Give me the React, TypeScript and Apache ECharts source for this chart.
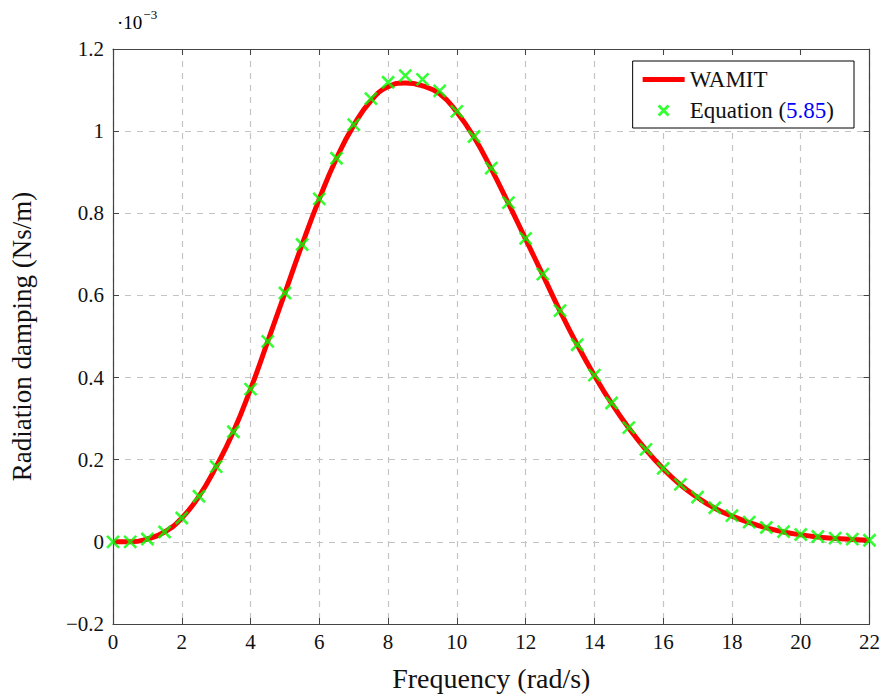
import React, { useEffect, useRef } from "react";
import * as echarts from "echarts";

const freq = [0, 0.5, 1, 1.5, 2, 2.5, 3, 3.5, 4, 4.5, 5, 5.5, 6, 6.5, 7, 7.5, 8, 8.5, 9, 9.5, 10, 10.5, 11, 11.5, 12, 12.5, 13, 13.5, 14, 14.5, 15, 15.5, 16, 16.5, 17, 17.5, 18, 18.5, 19, 19.5, 20, 20.5, 21, 21.5, 22];
const wamit = [0, 0, 0.007, 0.024, 0.058, 0.111, 0.183, 0.268, 0.372, 0.488, 0.606, 0.724, 0.835, 0.934, 1.014, 1.074, 1.108, 1.117, 1.11, 1.091, 1.046, 0.985, 0.908, 0.824, 0.737, 0.65, 0.562, 0.48, 0.405, 0.337, 0.277, 0.224, 0.178, 0.139, 0.108, 0.082, 0.063, 0.047, 0.034, 0.024, 0.017, 0.012, 0.008, 0.006, 0.004];
const equation = [0, 0, 0.007, 0.024, 0.058, 0.111, 0.183, 0.268, 0.372, 0.488, 0.606, 0.724, 0.835, 0.934, 1.016, 1.079, 1.119, 1.135, 1.126, 1.098, 1.048, 0.987, 0.91, 0.826, 0.739, 0.652, 0.563, 0.48, 0.406, 0.338, 0.278, 0.225, 0.179, 0.14, 0.109, 0.083, 0.064, 0.048, 0.035, 0.025, 0.018, 0.013, 0.009, 0.0065, 0.004];
const xTicks = { min: 0, max: 22, interval: 2 };
const yTicks = { min: -0.2, max: 1.2, interval: 0.2 };

const FONT = "Liberation Serif";
const GREEN = "#00ff00";
const CROSS = "path://M0,0 L10,10 M10,0 L0,10";
const CROSS_LEGEND = "path://M-2,-2 M12,12 M0,0 L10,10 M10,0 L0,10";
const LINE_LEGEND = "path://M0,0 H42 V5 H0 Z";

export default function App() {
  const ref = useRef<HTMLDivElement>(null);
  useEffect(() => {
    if (!ref.current) return;
    const chart = echarts.init(ref.current, undefined, { renderer: "svg" });
    const axisCommon = {
      axisLine: { show: true, onZero: false, lineStyle: { color: "#444", width: 1.2 } },
      axisTick: { show: true, inside: true, length: 6, lineStyle: { color: "#444", width: 1 } },
    };
    const fmtY = (v: number) => {
      const r = Math.round(v * 10) / 10;
      if (r === 0) return "0";
      return (r < 0 ? "\u2212" : "") + String(Math.abs(r));
    };
    chart.setOption({
      animation: false,
      backgroundColor: "#fff",
      textStyle: { fontFamily: FONT },
      grid: { left: 110, right: 13, top: 49, bottom: 69 },
      legend: {
        right: 29,
        top: 61,
        orient: "vertical",
        backgroundColor: "#fff",
        borderColor: "#000",
        borderWidth: 1,
        borderRadius: 0,
        padding: [7, 20, 6, 10],
        itemGap: 8,
        itemWidth: 42,
        itemHeight: 14,
        textStyle: {
          fontFamily: FONT,
          fontSize: 23,
          color: "#111",
          rich: {
            a: { fontFamily: FONT, fontSize: 23, color: "#111" },
            b: { fontFamily: FONT, fontSize: 23, color: "#0000ff" },
          },
        },
        formatter: (name: string) =>
          name === "Equation (5.85)" ? "{a|Equation (}{b|5.85}{a|)}" : name,
        data: [
          { name: "WAMIT", icon: LINE_LEGEND, itemStyle: { color: "#ff0000", borderWidth: 0 } },
          { name: "Equation (5.85)", icon: CROSS_LEGEND, itemStyle: { color: GREEN, borderColor: GREEN, borderWidth: 3 } },
        ],
      },
      xAxis: [
        {
          type: "value",
          ...xTicks,
          position: "bottom",
          ...axisCommon,
          axisLabel: { fontFamily: FONT, fontSize: 21, color: "#111", margin: 7 },
          splitLine: { show: true, lineStyle: { type: [6, 6], color: "#c4c4c4", width: 1.2 } },
          name: "Frequency (rad/s)",
          nameLocation: "middle",
          nameGap: 40,
          nameTextStyle: { fontFamily: FONT, fontSize: 28, color: "#111" },
        },
        {
          type: "value",
          ...xTicks,
          position: "top",
          ...axisCommon,
          axisLabel: { show: false },
          splitLine: { show: false },
        },
      ],
      yAxis: [
        {
          type: "value",
          ...yTicks,
          position: "left",
          ...axisCommon,
          axisLabel: { fontFamily: FONT, fontSize: 21, color: "#111", margin: 9, formatter: fmtY },
          splitLine: { show: true, lineStyle: { type: [6, 6], color: "#c4c4c4", width: 1.2 } },
          name: "Radiation damping (Ns/m)",
          nameLocation: "middle",
          nameGap: 78,
          nameTextStyle: { fontFamily: FONT, fontSize: 27, color: "#111" },
        },
        {
          type: "value",
          ...yTicks,
          position: "right",
          ...axisCommon,
          axisLabel: { show: false },
          splitLine: { show: false },
        },
      ],
      graphic: [
        {
          type: "text",
          left: 117,
          top: 8,
          style: {
            text: "{a|\u00b710}{b|\u22123}",
            rich: {
              a: { fontFamily: FONT, fontSize: 19, color: "#111", verticalAlign: "bottom" },
              b: { fontFamily: FONT, fontSize: 13, color: "#111", verticalAlign: "top", padding: [0, 0, 11, 1] },
            },
          },
        },
      ],
      series: [
        {
          name: "WAMIT",
          type: "line",
          data: freq.map((f, i) => [f, wamit[i]]),
          smooth: true,
          symbol: "none",
          lineStyle: { color: "#ff0000", width: 5 },
          itemStyle: { color: "#ff0000" },
          z: 2,
        },
        {
          name: "Equation (5.85)",
          type: "scatter",
          data: freq.map((f, i) => [f, equation[i]]),
          symbol: CROSS,
          symbolSize: 12,
          itemStyle: { color: GREEN, borderColor: GREEN, borderWidth: 2.6 },
          z: 3,
        },
      ],
    });
    return () => chart.dispose();
  }, []);
  return <div ref={ref} style={{ width: 883, height: 697, position: "absolute", left: 0, top: 0 }} />;
}
